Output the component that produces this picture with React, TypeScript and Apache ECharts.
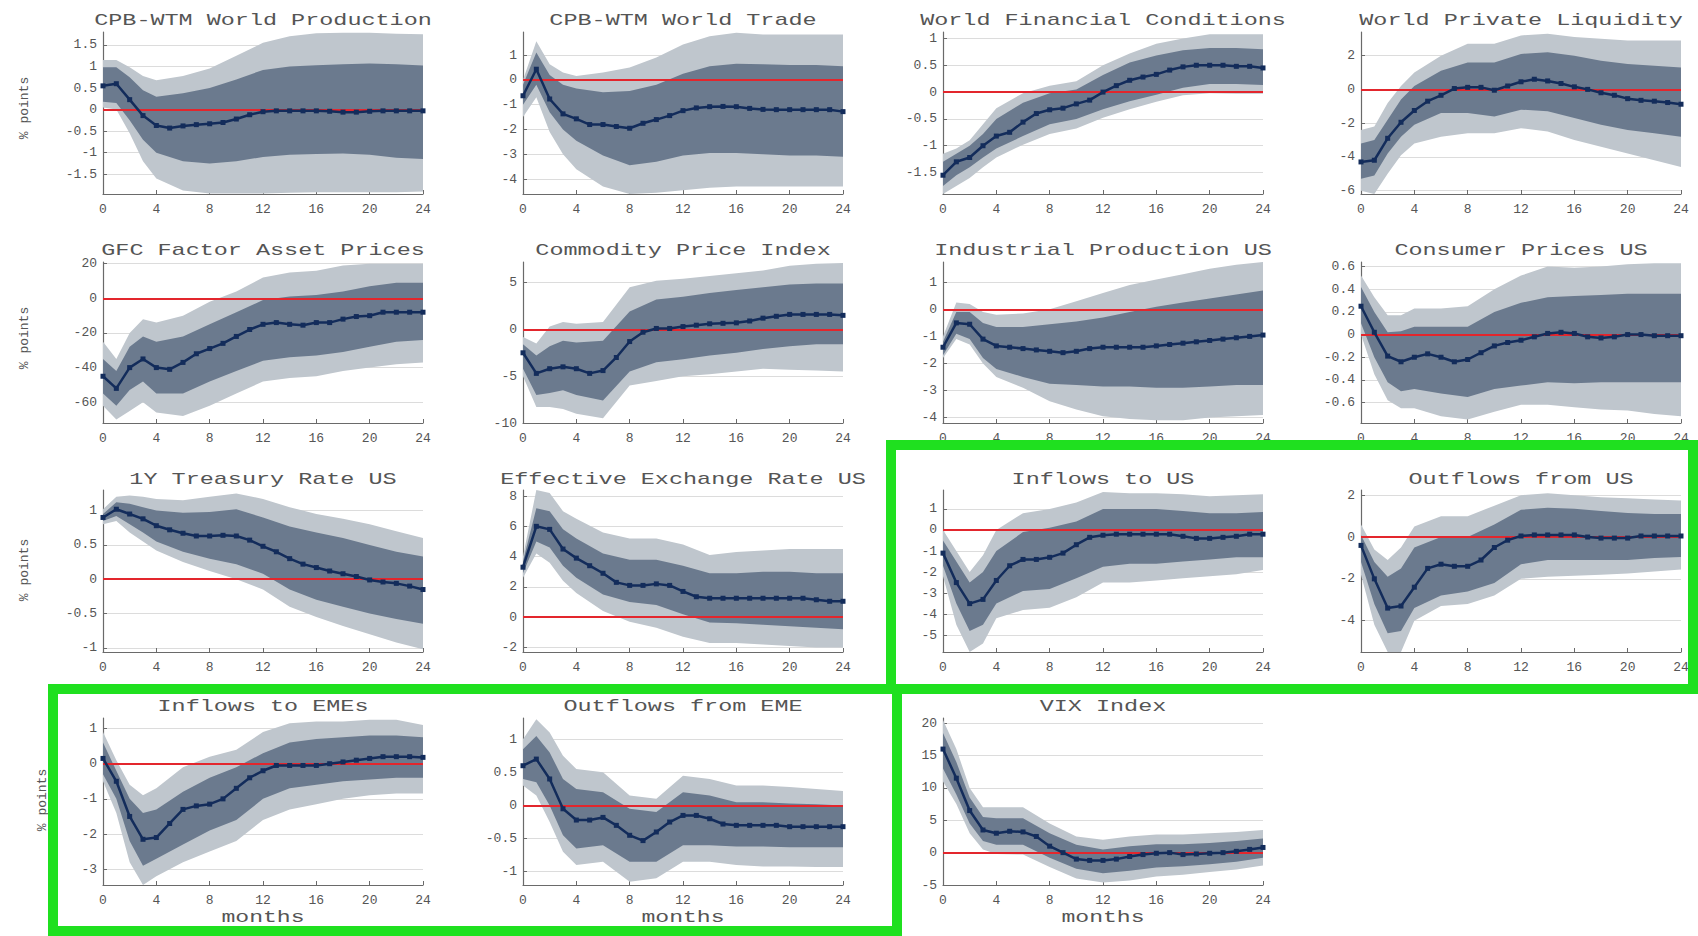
import React, { useEffect, useRef } from "react";
import * as echarts from "echarts";

// ---------- data ----------
const MONTHS = [0, 1, 2, 3, 4, 5, 6, 7, 8, 9, 10, 11, 12, 13, 14, 15, 16, 17, 18, 19, 20, 21, 22, 23, 24];
const BAND_MONTHS = [0, 1, 2, 3, 4, 6, 8, 10, 12, 14, 16, 18, 20, 22, 24];
const X_TICKS = [0, 4, 8, 12, 16, 20, 24];

const TITLES = [
  "CPB-WTM World Production", "CPB-WTM World Trade", "World Financial Conditions", "World Private Liquidity",
  "GFC Factor Asset Prices", "Commodity Price Index", "Industrial Production US", "Consumer Prices US",
  "1Y Treasury Rate US", "Effective Exchange Rate US", "Inflows to US", "Outflows from US",
  "Inflows to EMEs", "Outflows from EME", "VIX Index",
];

// 1 CPB-WTM World Production
const WP_MED = [0.55, 0.6, 0.23, -0.14, -0.37, -0.43, -0.38, -0.35, -0.33, -0.3, -0.22, -0.12, -0.05, -0.03, -0.03, -0.03, -0.03, -0.04, -0.06, -0.06, -0.04, -0.03, -0.03, -0.03, -0.03];
const WP_OUT_HI = [1.15, 1.15, 0.98, 0.78, 0.68, 0.78, 0.95, 1.25, 1.55, 1.7, 1.77, 1.78, 1.78, 1.76, 1.75];
const WP_IN_HI = [0.98, 0.98, 0.75, 0.45, 0.3, 0.38, 0.5, 0.7, 0.92, 1.0, 1.03, 1.05, 1.07, 1.05, 1.02];
const WP_IN_LO = [0.18, 0.15, -0.25, -0.7, -1.0, -1.2, -1.25, -1.2, -1.1, -1.05, -1.03, -1.02, -1.05, -1.12, -1.15];
const WP_OUT_LO = [0.05, 0.0, -0.55, -1.2, -1.6, -1.88, -1.95, -1.95, -1.95, -1.93, -1.92, -1.92, -1.92, -1.92, -1.9];
const WP_TICKS = [-1.5, -1, -0.5, 0, 0.5, 1, 1.5];

// 2 CPB-WTM World Trade
const WT_MED = [-0.64, 0.43, -0.77, -1.37, -1.57, -1.8, -1.8, -1.88, -1.95, -1.75, -1.6, -1.44, -1.24, -1.13, -1.08, -1.07, -1.08, -1.15, -1.19, -1.2, -1.2, -1.2, -1.2, -1.2, -1.28];
const WT_OUT_HI = [0.0, 1.56, 0.63, 0.3, 0.16, 0.3, 0.5, 0.9, 1.43, 1.76, 1.9, 1.83, 1.83, 1.83, 1.83];
const WT_IN_HI = [-0.2, 1.1, 0.2, -0.2, -0.35, -0.5, -0.45, -0.2, 0.25, 0.55, 0.65, 0.63, 0.6, 0.6, 0.55];
const WT_IN_LO = [-1.0, -0.2, -1.3, -2.0, -2.45, -3.05, -3.44, -3.3, -3.05, -2.95, -2.95, -3.0, -3.05, -3.05, -3.1];
const WT_OUT_LO = [-1.5, -0.7, -2.1, -3.0, -3.6, -4.3, -4.6, -4.55, -4.45, -4.35, -4.3, -4.3, -4.3, -4.3, -4.3];
const WT_TICKS = [-4, -3, -2, -1, 0, 1];

// 3 World Financial Conditions
const WF_MED = [-1.55, -1.3, -1.22, -1.0, -0.82, -0.75, -0.56, -0.4, -0.33, -0.3, -0.22, -0.15, 0.0, 0.12, 0.22, 0.28, 0.33, 0.41, 0.47, 0.5, 0.5, 0.5, 0.48, 0.48, 0.45];
const WF_OUT_HI = [-1.15, -1.05, -0.9, -0.6, -0.3, -0.02, 0.12, 0.2, 0.5, 0.72, 0.9, 1.0, 1.08, 1.08, 1.08];
const WF_IN_HI = [-1.3, -1.15, -1.0, -0.78, -0.5, -0.2, -0.02, 0.05, 0.32, 0.55, 0.68, 0.78, 0.82, 0.82, 0.8];
const WF_IN_LO = [-1.75, -1.55, -1.4, -1.22, -1.05, -0.82, -0.6, -0.5, -0.32, -0.17, -0.05, 0.08, 0.15, 0.15, 0.13];
const WF_OUT_LO = [-1.9, -1.75, -1.6, -1.4, -1.22, -0.98, -0.78, -0.68, -0.48, -0.32, -0.18, -0.06, -0.02, -0.03, -0.03];
const WF_TICKS = [-1.5, -1, -0.5, 0, 0.5, 1];

// 4 World Private Liquidity
const PL_MED = [-4.3, -4.2, -2.9, -1.95, -1.25, -0.7, -0.35, 0.05, 0.12, 0.12, -0.05, 0.2, 0.45, 0.6, 0.5, 0.35, 0.15, 0.0, -0.2, -0.35, -0.55, -0.65, -0.7, -0.78, -0.88];
const PL_OUT_HI = [-2.4, -2.2, -0.8, 0.2, 1.0, 2.0, 2.7, 2.7, 3.2, 3.3, 3.1, 3.0, 2.9, 2.9, 2.9];
const PL_IN_HI = [-3.2, -3.0, -1.8, -0.6, 0.2, 1.1, 1.6, 1.6, 2.1, 2.2, 2.0, 1.7, 1.5, 1.4, 1.3];
const PL_IN_LO = [-5.3, -5.1, -3.8, -2.8, -2.1, -1.4, -1.4, -1.6, -1.2, -1.3, -1.7, -2.1, -2.4, -2.6, -2.8];
const PL_OUT_LO = [-6.0, -6.2, -5.0, -3.9, -3.2, -2.8, -2.6, -2.6, -2.3, -2.5, -3.0, -3.4, -3.8, -4.2, -4.6];
const PL_TICKS = [-6, -4, -2, 0, 2];

// 5 GFC Factor Asset Prices
const GF_MED = [-45, -52, -40, -35, -40, -41, -37, -32, -29, -26, -22, -18, -15, -14, -15, -15.5, -14, -14, -12, -10.5, -10, -8, -8, -8, -8];
const GF_OUT_HI = [-25, -35, -20, -12, -14, -10, -2, 4, 12, 15, 16, 19, 20, 20, 20];
const GF_IN_HI = [-35, -42, -28, -22, -25, -22, -15, -8, -1, 1, 2, 4, 7, 9, 9];
const GF_IN_LO = [-55, -62, -53, -48, -55, -55, -48, -42, -36, -34, -33, -31, -28, -25, -24];
const GF_OUT_LO = [-62, -70, -65, -60, -66, -68, -62, -55, -48, -46, -45, -42, -40, -38, -37];
const GF_TICKS = [-60, -40, -20, 0, 20];

// 6 Commodity Price Index
const CP_MED = [-2.5, -4.7, -4.2, -4.0, -4.2, -4.7, -4.4, -3.0, -1.3, -0.3, 0.1, 0.1, 0.3, 0.45, 0.6, 0.65, 0.7, 0.9, 1.2, 1.4, 1.6, 1.6, 1.6, 1.6, 1.5];
const CP_OUT_HI = [-0.8, -1.5, 0.3, 0.8, 0.6, 0.8, 4.5, 5.2, 5.4, 5.7, 6.0, 6.3, 6.8, 7.0, 7.1];
const CP_IN_HI = [-1.6, -2.8, -1.8, -1.2, -1.4, -1.2, 1.9, 3.2, 3.5, 3.9, 4.2, 4.5, 4.8, 4.9, 4.9];
const CP_IN_LO = [-4.2, -7.0, -6.8, -6.5, -7.0, -7.6, -4.5, -3.5, -3.2, -2.8, -2.5, -2.1, -1.8, -1.6, -1.6];
const CP_OUT_LO = [-5.0, -8.3, -8.3, -8.5, -9.0, -9.5, -6.0, -5.5, -5.0, -4.8, -4.5, -4.2, -4.3, -4.4, -4.5];
const CP_TICKS = [-10, -5, 0, 5];

// 7 Industrial Production US
const IP_MED = [-1.4, -0.5, -0.55, -1.1, -1.35, -1.4, -1.45, -1.5, -1.55, -1.6, -1.55, -1.45, -1.4, -1.4, -1.4, -1.4, -1.35, -1.3, -1.25, -1.2, -1.15, -1.1, -1.05, -1.0, -0.95];
const IP_OUT_HI = [-1.0, 0.25, 0.2, -0.1, -0.2, -0.15, 0.0, 0.3, 0.6, 0.9, 1.1, 1.3, 1.5, 1.65, 1.75];
const IP_IN_HI = [-1.2, -0.1, -0.1, -0.5, -0.65, -0.65, -0.55, -0.45, -0.3, -0.1, 0.1, 0.25, 0.4, 0.55, 0.7];
const IP_IN_LO = [-1.7, -0.9, -1.1, -1.8, -2.2, -2.5, -2.75, -2.8, -2.85, -2.85, -2.9, -2.9, -2.85, -2.8, -2.8];
const IP_OUT_LO = [-1.8, -1.1, -1.3, -2.0, -2.5, -2.9, -3.4, -3.7, -3.95, -4.05, -4.1, -4.1, -4.0, -3.95, -3.9];
const IP_TICKS = [-4, -3, -2, -1, 0, 1];

// 8 Consumer Prices US
const CPI_MED = [0.25, 0.02, -0.19, -0.24, -0.2, -0.17, -0.2, -0.24, -0.22, -0.16, -0.1, -0.07, -0.05, -0.02, 0.01, 0.02, 0.01, -0.02, -0.03, -0.02, 0.0, 0.0, -0.01, -0.01, -0.01];
const CPI_OUT_HI = [0.52, 0.33, 0.17, 0.17, 0.23, 0.23, 0.25, 0.4, 0.52, 0.6, 0.59, 0.6, 0.62, 0.63, 0.63];
const CPI_IN_HI = [0.42, 0.2, 0.02, 0.03, 0.07, 0.07, 0.07, 0.2, 0.28, 0.33, 0.34, 0.35, 0.36, 0.36, 0.36];
const CPI_IN_LO = [0.1, -0.2, -0.42, -0.5, -0.48, -0.52, -0.55, -0.48, -0.45, -0.42, -0.43, -0.42, -0.42, -0.42, -0.42];
const CPI_OUT_LO = [0.0, -0.35, -0.58, -0.65, -0.65, -0.72, -0.75, -0.68, -0.62, -0.62, -0.64, -0.66, -0.67, -0.7, -0.72];
const CPI_TICKS = [-0.6, -0.4, -0.2, 0, 0.2, 0.4, 0.6];

// 9 1Y Treasury Rate US
const TR_MED = [0.9, 1.02, 0.95, 0.88, 0.78, 0.72, 0.67, 0.63, 0.63, 0.64, 0.63, 0.57, 0.48, 0.4, 0.3, 0.22, 0.17, 0.12, 0.08, 0.04, -0.01, -0.04, -0.06, -0.1, -0.15];
const TR_OUT_HI = [1.02, 1.2, 1.22, 1.2, 1.17, 1.15, 1.2, 1.25, 1.17, 1.05, 0.95, 0.88, 0.8, 0.7, 0.6];
const TR_IN_HI = [0.95, 1.12, 1.1, 1.05, 1.0, 0.97, 0.98, 1.02, 0.9, 0.77, 0.68, 0.6, 0.5, 0.4, 0.33];
const TR_IN_LO = [0.85, 0.92, 0.8, 0.68, 0.55, 0.4, 0.3, 0.22, 0.08, -0.15, -0.3, -0.4, -0.5, -0.58, -0.65];
const TR_OUT_LO = [0.8, 0.85, 0.68, 0.55, 0.42, 0.25, 0.12, 0.0, -0.15, -0.4, -0.55, -0.68, -0.8, -0.92, -1.02];
const TR_TICKS = [-1, -0.5, 0, 0.5, 1];

// 10 Effective Exchange Rate US
const EX_MED = [3.3, 6.0, 5.8, 4.5, 3.9, 3.4, 2.9, 2.3, 2.1, 2.1, 2.2, 2.1, 1.7, 1.35, 1.25, 1.25, 1.25, 1.25, 1.25, 1.25, 1.25, 1.25, 1.15, 1.05, 1.05];
const EX_OUT_HI = [4.0, 8.4, 8.2, 7.0, 6.5, 5.6, 5.2, 5.2, 4.8, 4.1, 4.3, 4.4, 4.5, 4.5, 4.5];
const EX_IN_HI = [3.7, 7.2, 7.0, 5.8, 5.2, 4.2, 3.8, 3.8, 3.4, 2.9, 2.9, 3.0, 3.0, 2.9, 2.9];
const EX_IN_LO = [2.9, 5.0, 4.6, 3.4, 2.6, 1.5, 1.0, 0.8, 0.2, -0.35, -0.4, -0.5, -0.6, -0.7, -0.8];
const EX_OUT_LO = [2.6, 4.2, 3.6, 2.4, 1.6, 0.4, -0.3, -0.7, -1.3, -1.7, -1.7, -1.8, -1.9, -2.0, -2.0];
const EX_TICKS = [-2, 0, 2, 4, 6, 8];

// 11 Inflows to US
const IUS_MED = [-1.1, -2.5, -3.5, -3.3, -2.4, -1.7, -1.4, -1.4, -1.3, -1.1, -0.7, -0.35, -0.25, -0.2, -0.2, -0.2, -0.2, -0.2, -0.3, -0.4, -0.4, -0.35, -0.3, -0.2, -0.2];
const IUS_OUT_HI = [0.0, -1.0, -2.0, -1.2, 0.0, 0.8, 1.0, 1.3, 1.8, 1.75, 1.75, 1.7, 1.6, 1.65, 1.7];
const IUS_IN_HI = [-0.5, -1.5, -2.5, -2.0, -1.0, -0.1, 0.1, 0.4, 1.0, 1.0, 1.0, 0.9, 0.8, 0.8, 0.85];
const IUS_IN_LO = [-1.7, -3.5, -4.8, -4.5, -3.5, -2.9, -2.8, -2.3, -1.75, -1.6, -1.6, -1.5, -1.4, -1.3, -1.3];
const IUS_OUT_LO = [-2.2, -4.5, -5.8, -5.4, -4.2, -3.8, -3.7, -3.2, -2.5, -2.5, -2.4, -2.3, -2.2, -2.1, -1.9];
const IUS_TICKS = [-5, -4, -3, -2, -1, 0, 1];

// 12 Outflows from US
const OUS_MED = [-0.4, -2.0, -3.4, -3.3, -2.4, -1.5, -1.3, -1.4, -1.4, -1.1, -0.5, -0.15, 0.05, 0.1, 0.1, 0.1, 0.1, 0.0, -0.05, -0.05, -0.05, 0.05, 0.05, 0.05, 0.05];
const OUS_OUT_HI = [0.6, -0.6, -1.1, -0.5, 0.5, 1.0, 1.0, 1.5, 2.0, 2.1, 2.0, 1.9, 1.85, 1.8, 1.75];
const OUS_IN_HI = [0.1, -1.2, -1.9, -1.5, -0.5, 0.0, 0.0, 0.6, 1.3, 1.4, 1.35, 1.25, 1.15, 1.1, 1.1];
const OUS_IN_LO = [-1.2, -3.2, -4.6, -4.5, -3.4, -2.8, -2.6, -2.2, -1.3, -1.1, -1.1, -1.1, -1.1, -1.0, -0.95];
const OUS_OUT_LO = [-1.8, -4.2, -5.5, -5.5, -4.0, -3.3, -3.2, -2.8, -2.0, -1.9, -1.85, -1.8, -1.75, -1.65, -1.55];
const OUS_TICKS = [-4, -2, 0, 2];

// 13 Inflows to EMEs
const IEM_MED = [0.15, -0.5, -1.5, -2.15, -2.1, -1.7, -1.3, -1.2, -1.15, -1.0, -0.7, -0.4, -0.2, -0.05, -0.05, -0.05, -0.05, 0.0, 0.05, 0.1, 0.15, 0.2, 0.2, 0.2, 0.18];
const IEM_OUT_HI = [0.9, 0.1, -0.6, -0.9, -0.7, -0.1, 0.2, 0.4, 0.9, 1.15, 1.2, 1.2, 1.25, 1.25, 1.1];
const IEM_IN_HI = [0.6, -0.2, -1.0, -1.4, -1.3, -0.8, -0.4, -0.1, 0.3, 0.6, 0.7, 0.75, 0.8, 0.8, 0.75];
const IEM_IN_LO = [-0.3, -1.0, -2.2, -2.9, -2.7, -2.3, -1.9, -1.6, -1.0, -0.7, -0.6, -0.5, -0.45, -0.4, -0.4];
const IEM_OUT_LO = [-0.5, -1.4, -2.8, -3.45, -3.2, -2.8, -2.5, -2.2, -1.6, -1.3, -1.15, -1.0, -0.9, -0.85, -0.85];
const IEM_TICKS = [-3, -2, -1, 0, 1];

// 14 Outflows from EME
const OEM_MED = [0.6, 0.7, 0.4, -0.05, -0.22, -0.22, -0.18, -0.3, -0.45, -0.53, -0.4, -0.25, -0.15, -0.15, -0.2, -0.28, -0.3, -0.3, -0.3, -0.3, -0.32, -0.32, -0.32, -0.32, -0.32];
const OEM_OUT_HI = [1.0, 1.3, 1.1, 0.75, 0.55, 0.5, 0.15, 0.1, 0.45, 0.4, 0.3, 0.3, 0.28, 0.25, 0.22];
const OEM_IN_HI = [0.85, 1.05, 0.8, 0.4, 0.25, 0.2, -0.05, -0.1, 0.2, 0.15, 0.05, 0.05, 0.03, 0.02, 0.0];
const OEM_IN_LO = [0.4, 0.35, 0.0, -0.45, -0.65, -0.6, -0.85, -0.85, -0.6, -0.6, -0.62, -0.62, -0.63, -0.63, -0.63];
const OEM_OUT_LO = [0.3, 0.15, -0.25, -0.7, -0.9, -0.85, -1.15, -1.1, -0.85, -0.85, -0.9, -0.92, -0.92, -0.93, -0.93];
const OEM_TICKS = [-1, -0.5, 0, 0.5, 1];

// 15 VIX Index
const VIX_MED = [16, 11.5, 6.5, 3.5, 3.0, 3.3, 3.2, 2.5, 1.0, 0.0, -1.0, -1.2, -1.2, -1.0, -0.6, -0.3, -0.1, 0.0, -0.3, -0.2, -0.1, 0.0, 0.2, 0.5, 0.8];
const VIX_OUT_HI = [20.5, 16, 10, 7, 7.0, 7.0, 4.5, 2.5, 2.0, 2.5, 2.8, 2.8, 3.0, 3.2, 3.5];
const VIX_IN_HI = [18.5, 14, 8.5, 5.5, 5.3, 5.3, 3.0, 1.2, 0.5, 1.0, 1.3, 1.3, 1.5, 1.8, 2.2];
const VIX_IN_LO = [13, 9, 4.5, 1.8, 1.2, 1.2, -0.8, -2.5, -3.2, -2.8, -2.3, -2.1, -1.8, -1.4, -0.8];
const VIX_OUT_LO = [11, 7.5, 3.0, 0.5, -0.2, -0.3, -2.2, -4.0, -4.6, -4.3, -3.7, -3.4, -3.0, -2.6, -2.0];
const VIX_TICKS = [-5, 0, 5, 10, 15, 20];

type Panel = {
  med: number[]; outHi: number[]; inHi: number[]; inLo: number[]; outLo: number[];
  ticks: number[]; min: number; max: number;
};

const PANELS: Panel[] = [
  { med: WP_MED, outHi: WP_OUT_HI, inHi: WP_IN_HI, inLo: WP_IN_LO, outLo: WP_OUT_LO, ticks: WP_TICKS, min: -1.96, max: 1.8 },
  { med: WT_MED, outHi: WT_OUT_HI, inHi: WT_IN_HI, inLo: WT_IN_LO, outLo: WT_OUT_LO, ticks: WT_TICKS, min: -4.6, max: 1.93 },
  { med: WF_MED, outHi: WF_OUT_HI, inHi: WF_IN_HI, inLo: WF_IN_LO, outLo: WF_OUT_LO, ticks: WF_TICKS, min: -1.9, max: 1.12 },
  { med: PL_MED, outHi: PL_OUT_HI, inHi: PL_IN_HI, inLo: PL_IN_LO, outLo: PL_OUT_LO, ticks: PL_TICKS, min: -6.2, max: 3.4 },
  { med: GF_MED, outHi: GF_OUT_HI, inHi: GF_IN_HI, inLo: GF_IN_LO, outLo: GF_OUT_LO, ticks: GF_TICKS, min: -72, max: 21 },
  { med: CP_MED, outHi: CP_OUT_HI, inHi: CP_IN_HI, inLo: CP_IN_LO, outLo: CP_OUT_LO, ticks: CP_TICKS, min: -10, max: 7.2 },
  { med: IP_MED, outHi: IP_OUT_HI, inHi: IP_IN_HI, inLo: IP_IN_LO, outLo: IP_OUT_LO, ticks: IP_TICKS, min: -4.2, max: 1.75 },
  { med: CPI_MED, outHi: CPI_OUT_HI, inHi: CPI_IN_HI, inLo: CPI_IN_LO, outLo: CPI_OUT_LO, ticks: CPI_TICKS, min: -0.78, max: 0.64 },
  { med: TR_MED, outHi: TR_OUT_HI, inHi: TR_IN_HI, inLo: TR_IN_LO, outLo: TR_OUT_LO, ticks: TR_TICKS, min: -1.06, max: 1.3 },
  { med: EX_MED, outHi: EX_OUT_HI, inHi: EX_IN_HI, inLo: EX_IN_LO, outLo: EX_OUT_LO, ticks: EX_TICKS, min: -2.3, max: 8.4 },
  { med: IUS_MED, outHi: IUS_OUT_HI, inHi: IUS_IN_HI, inLo: IUS_IN_LO, outLo: IUS_OUT_LO, ticks: IUS_TICKS, min: -5.8, max: 1.9 },
  { med: OUS_MED, outHi: OUS_OUT_HI, inHi: OUS_IN_HI, inLo: OUS_IN_LO, outLo: OUS_OUT_LO, ticks: OUS_TICKS, min: -5.5, max: 2.25 },
  { med: IEM_MED, outHi: IEM_OUT_HI, inHi: IEM_IN_HI, inLo: IEM_IN_LO, outLo: IEM_OUT_LO, ticks: IEM_TICKS, min: -3.45, max: 1.3 },
  { med: OEM_MED, outHi: OEM_OUT_HI, inHi: OEM_IN_HI, inLo: OEM_IN_LO, outLo: OEM_OUT_LO, ticks: OEM_TICKS, min: -1.2, max: 1.32 },
  { med: VIX_MED, outHi: VIX_OUT_HI, inHi: VIX_IN_HI, inLo: VIX_IN_LO, outLo: VIX_OUT_LO, ticks: VIX_TICKS, min: -5, max: 20.8 },
];

// ---------- layout & style ----------
const COL_LEFT = [103, 523, 943, 1361];
const ROW_TOP = [32, 262, 490, 718];
const ROW_H = [162, 161, 162, 167];
const PLOT_W = 320;
const TITLE_Y = [20, 250, 479, 706];
const YNAME_POS = [[24, 108], [24, 338], [24, 570], [42, 800]];

const FONT = "'Liberation Mono', 'DejaVu Sans Mono', monospace";
const TEXT_COLOR = "#555555";
const AXIS_COLOR = "#6a6a6a";
const OUTER_COLOR = "#bfc6cd";
const INNER_COLOR = "#6b7a8e";
const MED_COLOR = "#132c5b";
const ZERO_COLOR = "#e3262d";
const GRID_COLOR = "#dcdcdc";
const GREEN = "#1fe01f";

function textEl(text: string, x: number, y: number, size: number, scaleX: number, rotation = 0) {
  return {
    type: "text", x, y, scaleX, rotation, z: 50,
    style: {
      text, fill: TEXT_COLOR, font: `${size}px ${FONT}`,
      textAlign: "center", textVerticalAlign: "middle", align: "center", verticalAlign: "middle",
    },
  };
}

// band drawn as one polygon through the axis scales: [x, lo, hi] rows
function bandRender(color: string) {
  return (params: any, api: any) => {
    if (params.dataIndex !== 0) return null;
    const n = params.dataInsideLength;
    const upper: number[][] = [];
    const lower: number[][] = [];
    for (let k = 0; k < n; k++) {
      const x = api.value(0, k);
      lower.push(api.coord([x, api.value(1, k)]));
      upper.push(api.coord([x, api.value(2, k)]));
    }
    const points = upper.concat(lower.reverse());
    return {
      type: "polygon",
      shape: { points },
      style: { fill: color, stroke: "none" },
      silent: true,
    };
  };
}

function buildOption() {
  const grids: any[] = [];
  const xAxes: any[] = [];
  const yAxes: any[] = [];
  const series: any[] = [];
  const graphics: any[] = [];
  const rows = (lo: number[], hi: number[]) => BAND_MONTHS.map((x, k) => [x, lo[k], hi[k]]);

  PANELS.forEach((p, i) => {
    const r = Math.floor(i / 4);
    const c = i % 4;
    grids.push({ left: COL_LEFT[c], top: ROW_TOP[r], width: PLOT_W, height: ROW_H[r], containLabel: false });
    xAxes.push({
      type: "value", gridIndex: i, min: 0, max: 24, interval: 4,
      axisLine: { show: true, onZero: false, lineStyle: { color: AXIS_COLOR, width: 1.2 } },
      axisTick: { show: true, inside: true, length: 4, lineStyle: { color: AXIS_COLOR } },
      axisLabel: { color: TEXT_COLOR, fontFamily: FONT, fontSize: 13, margin: 9, customValues: X_TICKS },
      splitLine: { show: false },
    });
    yAxes.push({
      type: "value", gridIndex: i, min: p.min, max: p.max,
      axisLine: { show: true, onZero: false, lineStyle: { color: AXIS_COLOR, width: 1.2 } },
      axisTick: { show: true, inside: true, length: 4, lineStyle: { color: AXIS_COLOR }, customValues: p.ticks },
      axisLabel: { color: TEXT_COLOR, fontFamily: FONT, fontSize: 13, margin: 6, customValues: p.ticks },
      splitLine: { show: true, lineStyle: { color: GRID_COLOR, width: 1 } },
    });
    series.push({
      type: "custom", xAxisIndex: i, yAxisIndex: i, silent: true, clip: true, z: 1,
      data: rows(p.outLo, p.outHi), encode: { x: 0, y: [1, 2] },
      renderItem: bandRender(OUTER_COLOR),
    });
    series.push({
      type: "custom", xAxisIndex: i, yAxisIndex: i, silent: true, clip: true, z: 2,
      data: rows(p.inLo, p.inHi), encode: { x: 0, y: [1, 2] },
      renderItem: bandRender(INNER_COLOR),
      markLine: {
        silent: true, symbol: "none", z: 4, animation: false,
        label: { show: false },
        lineStyle: { color: ZERO_COLOR, width: 2, type: "solid" },
        data: [{ yAxis: 0 }],
      },
    });
    series.push({
      type: "line", xAxisIndex: i, yAxisIndex: i, data: MONTHS.map((x, k) => [x, p.med[k]]), z: 10, silent: true,
      symbol: "rect", symbolSize: 5, showSymbol: true,
      lineStyle: { color: MED_COLOR, width: 2.5 },
      itemStyle: { color: MED_COLOR },
    });

    graphics.push(textEl(TITLES[i], COL_LEFT[c] + PLOT_W / 2, TITLE_Y[r], 17, 1.38));
    if (r === 3) graphics.push(textEl("months", COL_LEFT[c] + PLOT_W / 2, 917, 17, 1.36));
  });

  YNAME_POS.forEach(([x, y]) => graphics.push(textEl("% points", x, y, 13, 1, Math.PI / 2)));

  graphics.push({
    type: "rect", z: 100,
    shape: { x: 891, y: 445, width: 1693 - 891, height: 689 - 445 },
    style: { fill: "transparent", stroke: GREEN, lineWidth: 10 },
  });
  graphics.push({
    type: "rect", z: 100,
    shape: { x: 53, y: 689, width: 897 - 53, height: 931 - 689 },
    style: { fill: "transparent", stroke: GREEN, lineWidth: 10 },
  });

  return {
    animation: false,
    backgroundColor: "#ffffff",
    grid: grids,
    xAxis: xAxes,
    yAxis: yAxes,
    series,
    graphic: { elements: graphics },
  };
}

export default function App() {
  const ref = useRef<HTMLDivElement>(null);
  useEffect(() => {
    if (!ref.current) return;
    const chart = echarts.init(ref.current, null, { renderer: "svg" });
    chart.setOption(buildOption() as any);
    return () => chart.dispose();
  }, []);
  return (
    <div
      ref={ref}
      style={{ position: "fixed", left: 0, top: 0, width: 1698, height: 936, background: "#fff" }}
    />
  );
}
